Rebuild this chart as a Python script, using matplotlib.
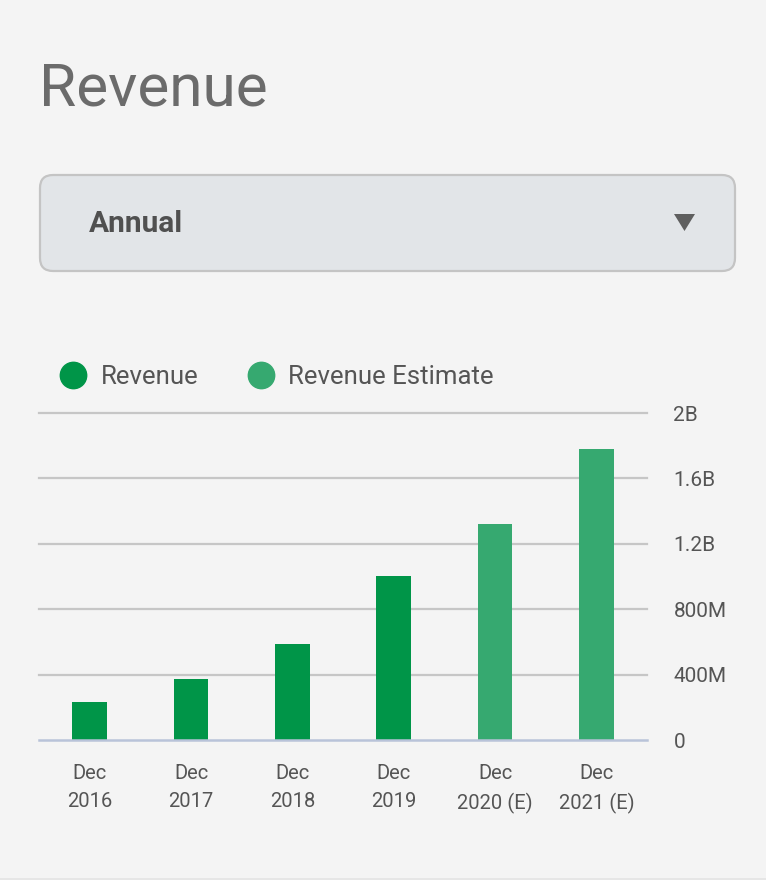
import matplotlib
matplotlib.use("Agg")
import matplotlib.pyplot as plt
from matplotlib.patches import FancyBboxPatch, Polygon
from matplotlib.lines import Line2D

plt.rcParams['font.family'] = ['Roboto', 'DejaVu Sans']

# ---- data ----
categories = ["Dec\n2016", "Dec\n2017", "Dec\n2018", "Dec\n2019", "Dec\n2020 (E)", "Dec\n2021 (E)"]
revenue = [230e6, 375e6, 585e6, 1005e6, None, None]
revenue_estimate = [None, None, None, None, 1320e6, 1780e6]
y_ticks = [0, 400e6, 800e6, 1200e6, 1600e6, 2000e6]
y_tick_labels = ["0", "400M", "800M", "1.2B", "1.6B", "2B"]
title = "Revenue"
period = "Annual"
legend_labels = ["Revenue", "Revenue Estimate"]

W, H = 766, 880
BG = "#f4f4f4"
C_REV = "#009548"
C_EST = "#36a970"
TXT = "#555555"

fig = plt.figure(figsize=(W / 100, H / 100), dpi=100, facecolor=BG)

# overlay in pixel coordinates for the header widgets
ov = fig.add_axes([0, 0, 1, 1], zorder=0)
ov.set_xlim(0, W)
ov.set_ylim(H, 0)
ov.axis("off")
ov.set_facecolor(BG)

ov.text(39, 106, title, fontsize=43.5, color="#6b6b6b", ha="left", va="baseline")

box = FancyBboxPatch((40, 175), 695, 96, boxstyle="round,pad=0,rounding_size=13",
                     facecolor="#e2e5e8", edgecolor="#c4c4c4", linewidth=1.6)
ov.add_patch(box)
ov.text(89, 232, period, fontsize=21.5, fontweight="bold", color="#505050",
        ha="left", va="baseline")
ov.add_patch(Polygon([(674, 214), (695, 214), (684.5, 231)], closed=True,
                     facecolor="#5f5f5f", edgecolor="none"))
ov.axhline(879.5, color="#e4e4e4", linewidth=1.2)

# ---- chart axes ----
left, right = 39, 647
top, bottom = 413, 740
ax = fig.add_axes([left / W, 1 - bottom / H, (right - left) / W, (bottom - top) / H], zorder=1)
ax.set_facecolor("none")

x = list(range(len(categories)))
bw = 0.34
rx = [i for i, v in zip(x, revenue) if v is not None]
rv = [v for v in revenue if v is not None]
ex = [i for i, v in zip(x, revenue_estimate) if v is not None]
ev = [v for v in revenue_estimate if v is not None]
ax.bar(rx, rv, width=bw, color=C_REV, zorder=3)
ax.bar(ex, ev, width=bw, color=C_EST, zorder=3)

ax.set_xlim(-0.5, len(categories) - 0.5)
ax.set_ylim(0, 2000e6)
ax.set_yticks(y_ticks)
ax.set_yticklabels(y_tick_labels)
ax.yaxis.tick_right()
for t in y_ticks[1:]:
    ax.axhline(t, color="#c6c6c6", linewidth=1.6, zorder=1, clip_on=False)
ax.axhline(0, color="#b9c3d9", linewidth=1.8, zorder=4, clip_on=False)

ax.set_xticks(x)
ax.set_xticklabels(categories, linespacing=1.6)
ax.tick_params(axis="x", length=0, pad=17, labelsize=14.5, labelcolor=TXT)
ax.tick_params(axis="y", length=0, pad=19, labelsize=15, labelcolor=TXT)
for lab in ax.get_yticklabels():
    lab.set_horizontalalignment("left")
for s in ax.spines.values():
    s.set_visible(False)

handles = [Line2D([], [], linestyle="none", marker="o", markersize=19, color=C_REV),
           Line2D([], [], linestyle="none", marker="o", markersize=19, color=C_EST)]
fig.legend(handles, legend_labels, loc="center left",
           bbox_to_anchor=(59.5 / W, 1 - 377 / H), ncol=2, frameon=False,
           fontsize=18.5, labelcolor=TXT, handlelength=1.05, handletextpad=0.55,
           columnspacing=1.9, borderpad=0, borderaxespad=0)

fig.savefig("out.png", dpi=100, facecolor=BG)
